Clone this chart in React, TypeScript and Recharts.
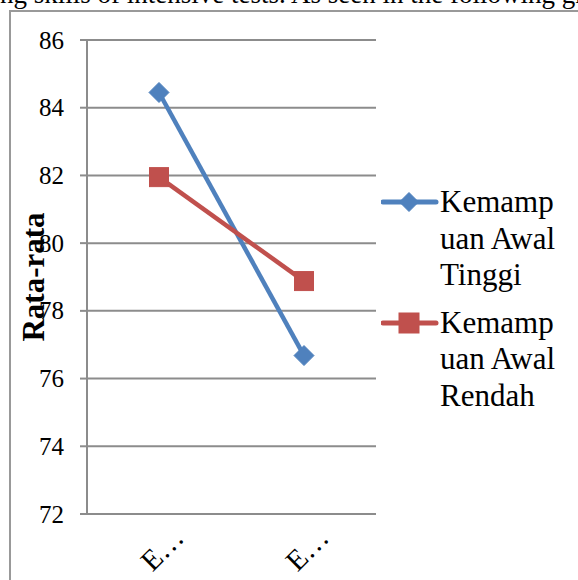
import { LineChart, Line, XAxis, YAxis, CartesianGrid, Legend } from 'recharts';

const categories = ['E…', 'E…'];
const tinggi = [84.45, 76.68];
const rendah = [81.95, 78.88];
const yTicks = [72, 74, 76, 78, 80, 82, 84, 86];

const series = [
  { key: 'tinggi', name: 'Kemampuan Awal Tinggi', color: '#4F81BD', marker: 'diamond' },
  { key: 'rendah', name: 'Kemampuan Awal Rendah', color: '#C0504D', marker: 'square' },
];

const data = categories.map((c, i) => ({ cat: c, tinggi: tinggi[i], rendah: rendah[i] }));

const GRID = '#8c8c8c';
const SERIF = '"Liberation Serif", "Times New Roman", serif';

function Diamond({ cx, cy, color, r = 10 }: { cx: number; cy: number; color: string; r?: number }) {
  return (
    <polygon
      points={`${cx},${cy - r} ${cx + r},${cy} ${cx},${cy + r} ${cx - r},${cy}`}
      fill={color}
      stroke={color}
      strokeWidth={1}
    />
  );
}

function Square({ cx, cy, color, s = 19 }: { cx: number; cy: number; color: string; s?: number }) {
  return <rect x={cx - s / 2} y={cy - s / 2} width={s} height={s} fill={color} stroke={color} strokeWidth={1} />;
}

function XTick({ x, y, payload }: any) {
  const tx = x + 3;
  const ty = y + 27;
  return (
    <text
      x={tx}
      y={ty}
      transform={`rotate(-45 ${tx} ${ty})`}
      textAnchor="middle"
      dominantBaseline="central"
      fontFamily={SERIF}
      fontSize={29}
      fill="#000"
    >
      {payload.value}
    </text>
  );
}

function YTick({ x, y, payload }: any) {
  return (
    <text x={x} y={y} textAnchor="end" dominantBaseline="central" fontFamily={SERIF} fontSize={25} fill="#000">
      {payload.value}
    </text>
  );
}

function YLabel({ viewBox }: any) {
  const cy = viewBox.y + viewBox.height / 2;
  return (
    <text
      x={33}
      y={cy}
      transform={`rotate(-90 33 ${cy})`}
      textAnchor="middle"
      dominantBaseline="central"
      fontFamily={SERIF}
      fontWeight="bold"
      fontSize={31}
      fill="#000"
    >
      Rata-rata
    </text>
  );
}

function LegendBox() {
  return (
    <div style={{ fontFamily: SERIF, fontSize: 31, lineHeight: '36.5px', color: '#000' }}>
      {series.map((s) => (
        <div key={s.key} style={{ display: 'flex', alignItems: 'flex-start', marginBottom: 11 }}>
          <svg width={59} height={36.5} style={{ flex: 'none' }}>
            <line x1={2} y1={18} x2={55} y2={18} stroke={s.color} strokeWidth={5} strokeLinecap="round" />
            {s.marker === 'diamond' ? (
              <Diamond cx={28} cy={18} color={s.color} r={9.5} />
            ) : (
              <Square cx={28} cy={18} color={s.color} s={20} />
            )}
          </svg>
          <div style={{ width: 126, wordBreak: 'break-all' }}>{s.name}</div>
        </div>
      ))}
    </div>
  );
}

export default function App() {
  return (
    <div style={{ position: 'absolute', left: 0, top: 0, width: 578, height: 580, overflow: 'hidden', background: '#fff' }}>
      <div
        style={{
          position: 'absolute',
          left: 0,
          top: -19,
          whiteSpace: 'nowrap',
          fontFamily: SERIF,
          fontSize: 27,
          lineHeight: '27px',
          color: '#000',
        }}
      >
        ng skills of intensive tests. As seen in the following graph
      </div>
      <div
        style={{
          position: 'absolute',
          left: 9,
          top: 10,
          width: 700,
          height: 700,
          border: '2px solid #999',
        }}
      />
      <div style={{ position: 'absolute', left: 0, top: 0 }}>
        <LineChart width={578} height={580} data={data} margin={{ top: 40, right: 202, bottom: 6, left: 27 }}>
          <CartesianGrid horizontal vertical={false} stroke={GRID} strokeWidth={2} />
          <XAxis
            dataKey="cat"
            padding={{ left: 72, right: 72 }}
            tickLine={false}
            axisLine={{ stroke: GRID, strokeWidth: 2 }}
            tick={<XTick />}
            interval={0}
            height={60}
          />
          <YAxis
            domain={[72, 86]}
            ticks={yTicks}
            width={60}
            tickSize={7}
            tickMargin={16}
            axisLine={{ stroke: GRID, strokeWidth: 2 }}
            tickLine={{ stroke: GRID, strokeWidth: 2 }}
            tick={<YTick />}
            label={<YLabel />}
          />
          <Legend
            layout="vertical"
            align="center"
            verticalAlign="middle"
            wrapperStyle={{ left: 381, top: 184, width: 195 }}
            content={() => <LegendBox />}
          />
          <Line
            dataKey="tinggi"
            name={series[0].name}
            stroke={series[0].color}
            strokeWidth={4.5}
            isAnimationActive={false}
            dot={(p: any) => <Diamond key={`d${p.index}`} cx={p.cx} cy={p.cy} color={series[0].color} />}
            activeDot={false}
          />
          <Line
            dataKey="rendah"
            name={series[1].name}
            stroke={series[1].color}
            strokeWidth={4.5}
            isAnimationActive={false}
            dot={(p: any) => <Square key={`s${p.index}`} cx={p.cx} cy={p.cy} color={series[1].color} />}
            activeDot={false}
          />
        </LineChart>
      </div>
    </div>
  );
}
